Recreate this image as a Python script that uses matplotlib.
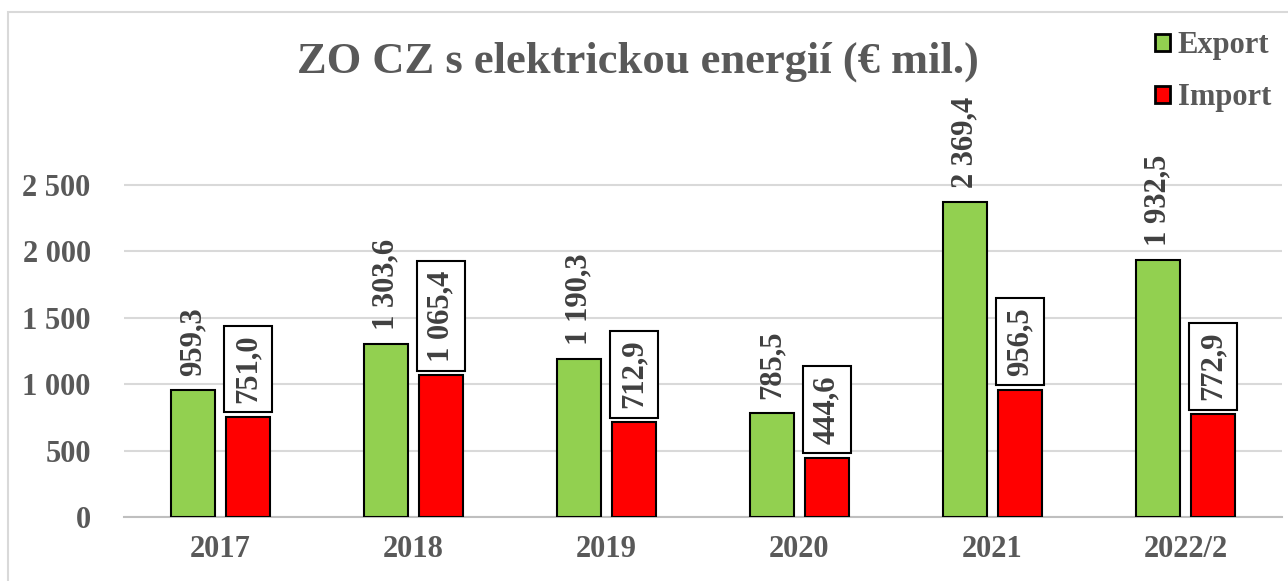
import numpy as np
import matplotlib.pyplot as plt
from matplotlib.patches import Rectangle, Patch

roky = ["2017", "2018", "2019", "2020", "2021", "2022/2"]
export = [959.3, 1303.6, 1190.3, 785.5, 2369.4, 1932.5]
import_ = [751.0, 1065.4, 712.9, 444.6, 956.5, 772.9]
yticks = [0, 500, 1000, 1500, 2000, 2500]

zelena = "#92d050"
cervena = "#ff0000"
seda = "#595959"
tmava = "#404040"

plt.rcParams["font.family"] = ["Liberation Serif", "DejaVu Serif"]
plt.rcParams["font.weight"] = "bold"


def fmt(v):
    # cesky format: mezera pro tisice, carka pro desetiny
    s = f"{v:,.1f}".replace(",", " ").replace(".", ",")
    return s


fig = plt.figure(figsize=(12.88, 5.81), dpi=100)
ax = fig.add_axes([0.0963, 0.1102, 0.899, 0.663])

# ramecek grafu
fig.patches.append(Rectangle((8 / 1288, -0.1), 1.2, 1 - 12 / 581 + 0.1,
                             transform=fig.transFigure, fill=False,
                             edgecolor="#d9d9d9", linewidth=1.5))

x = np.arange(len(roky))
w = 0.228
off = 0.142
b1 = ax.bar(x - off, export, w, color=zelena, edgecolor="black", linewidth=1.5, zorder=3)
b2 = ax.bar(x + off, import_, w, color=cervena, edgecolor="black", linewidth=1.5, zorder=3)

for r, v in zip(b1, export):
    ax.annotate(fmt(v), (r.get_x() + r.get_width() / 2, v), xytext=(0, 10),
                textcoords="offset points", rotation=90, ha="center", va="bottom",
                fontsize=22, color=tmava, fontweight="bold")
for r, v in zip(b2, import_):
    ax.annotate(fmt(v), (r.get_x() + r.get_width() / 2, v), xytext=(0, 10),
                textcoords="offset points", rotation=90, ha="center", va="bottom",
                fontsize=22, color=tmava, fontweight="bold",
                bbox=dict(boxstyle="square,pad=0.3", facecolor="white",
                          edgecolor="black", linewidth=1.5))

ax.set_xlim(-0.5, len(roky) - 0.5)
ax.set_ylim(0, 2900)
ax.set_yticks(yticks)
ax.set_yticklabels([f"{t:,}".replace(",", " ") for t in yticks])
ax.set_xticks(x)
ax.set_xticklabels(roky)
ax.tick_params(axis="both", length=0, labelsize=22, colors=seda, pad=13)
ax.tick_params(axis="y", pad=24)
ax.grid(axis="y", color="#d9d9d9", linewidth=1.5, zorder=0)
for s in ["top", "right", "left"]:
    ax.spines[s].set_visible(False)
ax.spines["bottom"].set_color("#bfbfbf")
ax.spines["bottom"].set_linewidth(1.5)

fig.text(0.495, 0.893, "ZO CZ s elektrickou energií (€ mil.)", ha="center", va="center",
         fontsize=32, color=seda, fontweight="bold")

handles = [Patch(facecolor=zelena, edgecolor="black", linewidth=2),
           Patch(facecolor=cervena, edgecolor="black", linewidth=2)]
leg = fig.legend(handles, ["Export", "Import"], loc="upper right",
                 bbox_to_anchor=(1.0, 0.975), frameon=False, fontsize=22,
                 handlelength=0.5, handleheight=0.5, handletextpad=0.25,
                 labelspacing=0.75, borderaxespad=0.15)
for t in leg.get_texts():
    t.set_color(seda)

fig.savefig("out.png", dpi=100)
